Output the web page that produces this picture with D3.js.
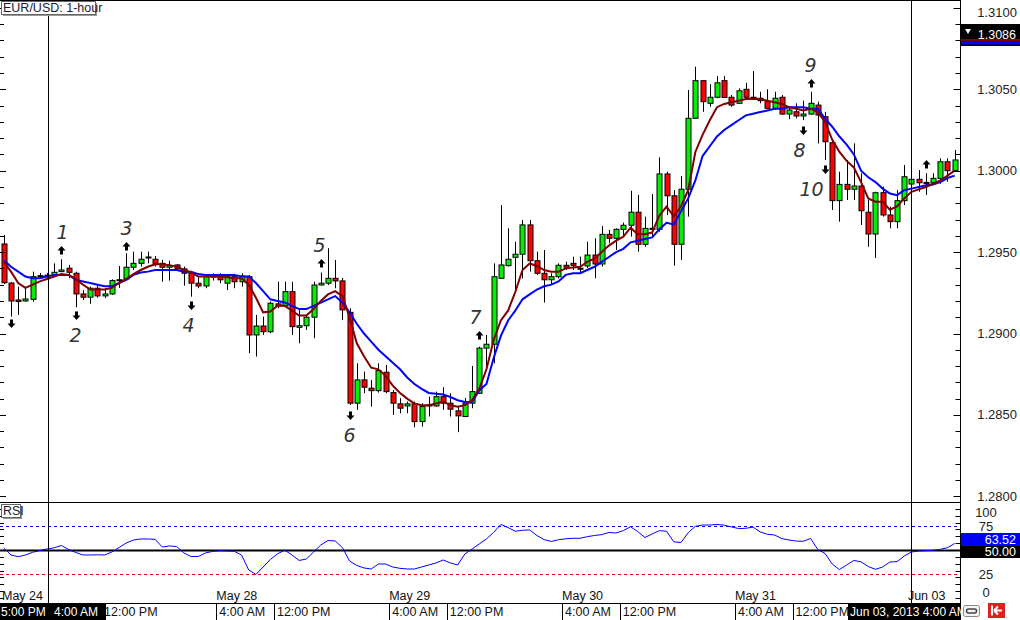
<!DOCTYPE html>
<html>
<head>
<meta charset="utf-8">
<script src="https://cdn.jsdelivr.net/npm/d3@7"></script>
<style>
  body { margin: 0; background: #fff; }
  svg text { font-family: "Liberation Sans", Arial, sans-serif; }
</style>
</head>
<body>
<div id="chart"></div>
<script>
// EUR/USD 1-hour candles (one entry per bar)
const opens = [1.2955,1.2931,1.29206,1.2920,1.2921,1.29353,1.29355,1.2936,1.2938,1.29401,1.2937,1.29243,1.29223,1.29278,1.29231,1.29243,1.29327,1.29335,1.29407,1.29431,1.29468,1.29456,1.29431,1.29407,1.29421,1.29397,1.2937,1.29309,1.29292,1.29349,1.29349,1.29309,1.29349,1.29318,1.29349,1.28991,1.29046,1.29011,1.29182,1.29169,1.29257,1.29038,1.29048,1.291,1.29298,1.29309,1.29339,1.29323,1.2913,1.28572,1.28715,1.28664,1.28649,1.28762,1.28637,1.28568,1.28555,1.28568,1.28459,1.28561,1.28555,1.28612,1.28572,1.28525,1.2849,1.28572,1.28633,1.2891,1.28934,1.29339,1.29417,1.29468,1.29487,1.29667,1.29447,1.2937,1.2933,1.29349,1.29419,1.29431,1.29401,1.29415,1.29482,1.29427,1.29609,1.29585,1.2964,1.29665,1.29745,1.29548,1.29646,1.2964,1.2998,1.29846,1.29548,1.29886,1.30322,1.30553,1.30414,1.30451,1.30553,1.30451,1.30414,1.305,1.30451,1.30445,1.30424,1.30383,1.30451,1.30348,1.30362,1.30336,1.30348,1.30403,1.30332,1.30172,1.29816,1.29916,1.29886,1.29906,1.29745,1.29611,1.29865,1.29728,1.29687,1.29816,1.29918,1.29947,1.29926,1.29926,1.29953,1.30055,1.3];
const highs = [1.29605,1.29317,1.29288,1.29288,1.2938,1.29372,1.29372,1.29431,1.29456,1.29421,1.2938,1.29267,1.29288,1.29292,1.29278,1.29333,1.29415,1.29493,1.29503,1.29503,1.29503,1.29476,1.29452,1.29447,1.29427,1.29411,1.2938,1.29345,1.2936,1.2937,1.2937,1.2936,1.29366,1.2937,1.2936,1.29114,1.29104,1.29196,1.29318,1.29318,1.29318,1.29155,1.29114,1.29318,1.29374,1.29524,1.29452,1.29341,1.29155,1.28817,1.28766,1.28715,1.28817,1.28807,1.28653,1.28603,1.28582,1.28582,1.28572,1.28612,1.28643,1.2867,1.28633,1.28551,1.28603,1.28801,1.28919,1.28991,1.29431,1.29789,1.29646,1.29564,1.29697,1.29697,1.29503,1.29513,1.2937,1.29431,1.29441,1.29472,1.29472,1.29564,1.29585,1.2966,1.29636,1.29646,1.29681,1.29877,1.29851,1.29718,1.29857,1.30082,1.29994,1.29881,1.29967,1.30496,1.30639,1.30555,1.30532,1.30581,1.30581,1.30465,1.30506,1.3054,1.30612,1.30485,1.305,1.30485,1.30465,1.30393,1.30414,1.3043,1.30485,1.30424,1.30362,1.30189,1.29994,1.30066,1.30168,1.29984,1.2982,1.29871,1.29902,1.29779,1.29881,1.30035,1.29984,1.30004,1.29984,1.29984,1.30076,1.30076,1.30127];
const lows = [1.29304,1.29104,1.29114,1.29195,1.29196,1.29335,1.29341,1.29358,1.29378,1.29339,1.29161,1.29206,1.29182,1.2922,1.29218,1.29237,1.2928,1.2933,1.2939,1.29411,1.29431,1.29411,1.29318,1.29325,1.29395,1.29294,1.29226,1.29278,1.29278,1.29325,1.29309,1.29267,1.29278,1.29288,1.28879,1.28858,1.28991,1.29002,1.29155,1.29165,1.28991,1.2894,1.29022,1.28971,1.29295,1.29298,1.29278,1.29083,1.28561,1.28531,1.28633,1.28551,1.28637,1.28633,1.285,1.2851,1.2851,1.28424,1.28428,1.2849,1.2855,1.28531,1.2849,1.28394,1.28486,1.28541,1.28629,1.28797,1.28817,1.29335,1.29411,1.29267,1.29339,1.2938,1.2936,1.2919,1.29298,1.29339,1.2939,1.2939,1.2937,1.29402,1.29339,1.29411,1.29554,1.29513,1.29595,1.29595,1.29503,1.29533,1.29595,1.29625,1.29728,1.29417,1.29452,1.29718,1.3032,1.30362,1.30393,1.30445,1.30451,1.30393,1.3041,1.30434,1.30434,1.30414,1.30377,1.30373,1.30342,1.30316,1.30322,1.30311,1.30342,1.30168,1.30066,1.29759,1.29687,1.2982,1.2982,1.29667,1.29533,1.29464,1.29718,1.29646,1.29646,1.29789,1.29892,1.29871,1.29851,1.2992,1.2992,1.29932,1.29994];
const closes = [1.29312,1.2920,1.29197,1.29212,1.29349,1.29355,1.29358,1.29376,1.2939,1.29376,1.29243,1.29223,1.29278,1.29231,1.29243,1.29325,1.2933,1.29407,1.29431,1.29456,1.2947,1.29431,1.29407,1.29417,1.29397,1.2937,1.29309,1.29292,1.29349,1.29353,1.2933,1.29349,1.29318,1.29353,1.28991,1.29046,1.29011,1.29186,1.29169,1.29257,1.29042,1.29048,1.291,1.29298,1.29309,1.29339,1.29323,1.29145,1.28572,1.28715,1.2867,1.28649,1.28772,1.28643,1.28572,1.28541,1.28568,1.28459,1.28551,1.28559,1.28612,1.28572,1.28535,1.28494,1.28572,1.28643,1.2891,1.28934,1.29349,1.29421,1.29456,1.29487,1.29667,1.29447,1.2937,1.2933,1.29349,1.29419,1.29407,1.29419,1.294,1.29482,1.29427,1.29609,1.29585,1.2964,1.29665,1.29745,1.29548,1.29646,1.2964,1.2998,1.29846,1.29548,1.29886,1.30322,1.30553,1.30424,1.30451,1.3054,1.3045,1.30403,1.30491,1.30451,1.30445,1.3043,1.30383,1.30445,1.30348,1.30373,1.30336,1.30348,1.30414,1.30342,1.30178,1.29816,1.29916,1.29886,1.29906,1.29754,1.29611,1.29865,1.29728,1.29687,1.29816,1.29963,1.29947,1.29926,1.29928,1.29953,1.30055,1.3,1.30066];

// moving averages (dark red = fast, blue = slow)
const maFast = [1.2944,1.2938,1.2931,1.2928,1.2930,1.2932,1.29335,1.2935,1.29365,1.2936,1.29335,1.2930,1.2927,1.2927,1.2927,1.2928,1.2931,1.29335,1.29365,1.2939,1.2941,1.29425,1.29425,1.2942,1.2941,1.2939,1.29375,1.2935,1.2935,1.2935,1.2935,1.29345,1.2934,1.2934,1.2930,1.2922,1.2913,1.29135,1.2917,1.2917,1.2914,1.2911,1.2911,1.2915,1.2920,1.2924,1.2926,1.2923,1.2910,1.2894,1.2886,1.2879,1.2878,1.2874,1.2868,1.28635,1.2860,1.2857,1.2856,1.2856,1.2857,1.2858,1.2856,1.2855,1.2856,1.2859,1.2866,1.2878,1.2896,1.2908,1.2914,1.29255,1.2939,1.2943,1.29415,1.2939,1.2938,1.2938,1.2940,1.29405,1.2941,1.2944,1.2946,1.2950,1.2954,1.2957,1.29595,1.2965,1.2961,1.2961,1.2962,1.29725,1.2978,1.2972,1.2978,1.2988,1.30115,1.3022,1.3031,1.3039,1.3041,1.3042,1.3043,1.3044,1.3044,1.3044,1.3043,1.3042,1.3041,1.3039,1.3038,1.3037,1.3038,1.3036,1.3030,1.3019,1.30115,1.3006,1.3002,1.2993,1.2983,1.2981,1.2981,1.2976,1.2978,1.2983,1.2987,1.29885,1.2990,1.2992,1.2994,1.2997,1.3000];
const maSlow = [1.2945,1.2941,1.2938,1.2935,1.2934,1.2934,1.2935,1.2936,1.2936,1.2936,1.2933,1.2932,1.2931,1.2930,1.2929,1.2929,1.2931,1.2933,1.2936,1.29375,1.2938,1.2939,1.2939,1.2939,1.2939,1.2938,1.2938,1.29365,1.2936,1.2936,1.2936,1.2936,1.2936,1.2935,1.2935,1.2931,1.2926,1.2921,1.2920,1.2919,1.2917,1.2915,1.2915,1.2917,1.2919,1.2921,1.2923,1.2919,1.2913,1.2906,1.2900,1.2895,1.2890,1.2886,1.2882,1.2878,1.2873,1.2869,1.2866,1.28635,1.2863,1.28625,1.2861,1.2859,1.2858,1.2858,1.2865,1.2869,1.2885,1.28985,1.2908,1.2914,1.2921,1.2924,1.2927,1.2929,1.2930,1.2932,1.2936,1.2937,1.2937,1.2939,1.2941,1.2944,1.2947,1.2950,1.2952,1.2956,1.2957,1.2958,1.2959,1.2964,1.2968,1.2967,1.2975,1.2983,1.2994,1.3009,1.3015,1.3021,1.3025,1.3028,1.3031,1.3034,1.3035,1.3036,1.3037,1.3038,1.3038,1.3039,1.3039,1.3039,1.3038,1.3038,1.3032,1.3027,1.3021,1.3016,1.3010,1.3000,1.2996,1.2993,1.2989,1.2986,1.2985,1.2988,1.2989,1.2990,1.2991,1.29915,1.2993,1.29955,1.2997];

// RSI, one value per bar
const rsiValues = [52.1,44.8,43.0,44.8,47.6,49.5,51.0,52.3,54.7,50.5,47.4,44.8,44.8,45.0,44.8,47.9,52.6,57.3,60.4,61.5,61.5,61.1,53.1,54.2,53.6,46.9,43.2,43.2,46.9,48.6,49.2,49.0,48.6,44.8,29.2,24.5,32.3,40.1,46.0,49.8,44.8,39.1,40.6,47.9,55.2,59.9,59.4,52.6,38.5,33.9,31.3,30.2,35.4,35.4,32.3,30.9,30.2,30.2,32.3,34.4,36.5,39.6,36.5,34.4,45.8,51.0,56.3,61.5,68.4,76.6,73.4,69.5,70.6,70.9,65.1,60.8,58.9,60.7,61.7,62.2,62.2,63.9,65.1,66.0,68.2,67.7,70.2,74.2,69.2,63.0,66.7,70.2,69.5,58.5,57.8,67.9,74.7,76.0,76.0,76.6,75.8,74.1,72.3,72.6,73.8,68.8,66.4,65.6,61.9,60.4,59.3,59.1,62.0,50.5,46.4,35.4,29.6,34.4,39.1,37.7,32.8,29.9,32.3,37.5,37.9,43.8,47.9,49.0,49.3,49.7,50.7,52.4,56.8];

const priceTicks = [1.28, 1.285, 1.29, 1.295, 1.30, 1.305, 1.31];
const priceTickLabels = ["1.2800", "1.2850", "1.2900", "1.2950", "1.3000", "1.3050", "1.3100"];
const rsiTicks = [100, 75, 25, 0];
const rsiLevels = [75, 50, 25];

// time axis: bar index of each tick
const timeTicks = [
  { i: 13.5, label: "12:00 PM" }, { i: 29.5, label: "4:00 AM" }, { i: 37.5, label: "12:00 PM" },
  { i: 53.5, label: "4:00 AM" }, { i: 61.5, label: "12:00 PM" }, { i: 77.5, label: "4:00 AM" },
  { i: 85.5, label: "12:00 PM" }, { i: 101.5, label: "4:00 AM" }, { i: 109.5, label: "12:00 PM" }
];
const dateTicks = [
  { i: -0.25, label: "May 24" }, { i: 29.5, label: "May 28" }, { i: 53.5, label: "May 29" },
  { i: 77.5, label: "May 30" }, { i: 101.5, label: "May 31" }, { i: 125.5, label: "Jun 03" }
];
const cursorBars = [6.1, 126];

// hand-drawn notes: arrow tip at (bar, price)
const notes = [
  { text: "1", i: 8, p: 1.29537, dir: "up", dx: 1 },
  { text: "2", i: 10, p: 1.29083, dir: "down", dx: -1 },
  { text: "3", i: 17, p: 1.29562, dir: "up", dx: 0 },
  { text: "4", i: 26, p: 1.29144, dir: "down", dx: -3 },
  { text: "5", i: 44, p: 1.29458, dir: "up", dx: -2 },
  { text: "6", i: 48, p: 1.28469, dir: "down", dx: -1 },
  { text: "7", i: 66, p: 1.29015, dir: "up", dx: -4 },
  { text: "8", i: 111, p: 1.30219, dir: "down", dx: -4 },
  { text: "9", i: 112, p: 1.30563, dir: "up", dx: -1 },
  { text: "10", i: 114, p: 1.29980, dir: "down", dx: -14 },
  { text: "", i: 1, p: 1.29034, dir: "down", dx: 0 },
  { text: "", i: 128, p: 1.30066, dir: "up", dx: 0 }
];

const W = 1020, H = 620;
const plotRight = 960.5;
const pricePanel = { top: 0, bottom: 502 };
const rsiPanel = { top: 502, bottom: 603 };

const svg = d3.select("#chart").append("svg")
  .attr("width", W).attr("height", H)
  .style("display", "block");

svg.append("rect").attr("width", W).attr("height", H).attr("fill", "#fff");

const x = d3.scaleLinear().domain([0, opens.length - 1]).range([3.8, 954.7]);
const y = d3.scaleLinear().domain([1.28, 1.31]).range([496.3, 7.9]);
const yr = d3.scaleLinear().domain([0, 100]).range([598, 502]);

svg.append("clipPath").attr("id", "clipPrice")
  .append("rect").attr("x", 0).attr("y", 0).attr("width", plotRight).attr("height", pricePanel.bottom);
svg.append("clipPath").attr("id", "clipRsi")
  .append("rect").attr("x", 0).attr("y", rsiPanel.top).attr("width", plotRight).attr("height", rsiPanel.bottom - rsiPanel.top);

// ---- price panel ----
const gp = svg.append("g").attr("clip-path", "url(#clipPrice)");

const bars = d3.range(opens.length).map(i => ({
  i, o: opens[i], h: highs[i], l: lows[i], c: closes[i]
}));

gp.selectAll(".wick").data(bars).enter().append("line")
  .attr("x1", d => Math.round(x(d.i)) + 0.5).attr("x2", d => Math.round(x(d.i)) + 0.5)
  .attr("y1", d => y(d.h)).attr("y2", d => y(d.l))
  .attr("stroke", "#000").attr("stroke-width", 1);

gp.selectAll(".body").data(bars).enter().append("rect")
  .attr("x", d => Math.round(x(d.i)) - 2)
  .attr("width", 5)
  .attr("y", d => y(Math.max(d.o, d.c)))
  .attr("height", d => Math.max(1, Math.abs(y(d.o) - y(d.c))))
  .attr("fill", d => Math.abs(d.c - d.o) < 0.00004 ? "#000" : (d.c > d.o ? "#00f000" : "#ff0000"))
  .attr("stroke", "#000").attr("stroke-width", 1);

const maLine = d3.line().x((d, i) => x(i)).y(d => y(d));
gp.append("path").datum(maSlow).attr("d", maLine)
  .attr("fill", "none").attr("stroke", "#0000ff").attr("stroke-width", 2);
gp.append("path").datum(maFast).attr("d", maLine)
  .attr("fill", "none").attr("stroke", "#800000").attr("stroke-width", 2);

// notes
const noteG = gp.append("g");
notes.forEach(n => {
  const ax = Math.round(x(n.i)) + 0.5, ay = y(n.p);
  const s = n.dir === "up" ? 1 : -1;
  const path = `M${ax},${ay} L${ax - 4},${ay + 4.5 * s} L${ax - 1.5},${ay + 4.5 * s} L${ax - 1.5},${ay + 8.5 * s} L${ax + 1.5},${ay + 8.5 * s} L${ax + 1.5},${ay + 4.5 * s} L${ax + 4},${ay + 4.5 * s} Z`;
  noteG.append("path").attr("d", path).attr("fill", "#000");
  if (n.text) {
    noteG.append("text")
      .attr("x", ax + n.dx)
      .attr("y", n.dir === "up" ? ay - 7 : ay + 22)
      .attr("text-anchor", "middle")
      .style("font-family", "'DejaVu Sans', sans-serif")
      .style("font-style", "italic")
      .style("font-weight", "300")
      .style("font-size", "19px")
      .attr("fill", "#333")
      .text(n.text);
  }
});

// ---- RSI panel ----
const gr = svg.append("g").attr("clip-path", "url(#clipRsi)");
gr.selectAll(".lvl").data(rsiLevels).enter().append("line")
  .attr("x1", 0).attr("x2", plotRight)
  .attr("y1", d => Math.round(yr(d)) + 0.5).attr("y2", d => Math.round(yr(d)) + 0.5)
  .attr("stroke", d => d === 75 ? "#0000ff" : d === 25 ? "#e00000" : "#000")
  .attr("stroke-width", d => d === 50 ? 2 : 1)
  .attr("stroke-dasharray", d => d === 50 ? null : "3,3");

gr.append("path").datum(rsiValues)
  .attr("d", d3.line().x((d, i) => x(i)).y(d => yr(d)))
  .attr("fill", "none").attr("stroke", "#0000ff").attr("stroke-width", 1);

// ---- frame lines ----
svg.append("line").attr("x1", 0).attr("x2", plotRight).attr("y1", 0.5).attr("y2", 0.5).attr("stroke", "#000");
svg.append("line").attr("x1", 0).attr("x2", plotRight).attr("y1", rsiPanel.top + 0.5).attr("y2", rsiPanel.top + 0.5).attr("stroke", "#000");
svg.append("line").attr("x1", 0).attr("x2", plotRight).attr("y1", rsiPanel.bottom + 0.5).attr("y2", rsiPanel.bottom + 0.5).attr("stroke", "#000");
svg.append("line").attr("x1", plotRight).attr("x2", plotRight).attr("y1", 0).attr("y2", rsiPanel.bottom).attr("stroke", "#000");

// cursor lines
svg.selectAll(".cursor").data(cursorBars).enter().append("line")
  .attr("x1", d => Math.round(x(d)) + 0.5).attr("x2", d => Math.round(x(d)) + 0.5)
  .attr("y1", 0).attr("y2", rsiPanel.bottom + 17)
  .attr("stroke", "#000");

// ---- right price axis ----
const minor = d3.range(1.28, 1.3105, 0.001);
svg.selectAll(".ptick").data(minor).enter().append("line")
  .attr("x1", (d, k) => k % 5 === 0 ? plotRight - 7 : plotRight - 5).attr("x2", plotRight)
  .attr("y1", d => Math.round(y(d)) + 0.5).attr("y2", d => Math.round(y(d)) + 0.5)
  .attr("stroke", "#000");
svg.selectAll(".ptickL").data(minor).enter().append("line")
  .attr("x1", 0).attr("x2", (d, k) => k % 5 === 0 ? 6 : 4)
  .attr("y1", d => Math.round(y(d)) + 0.5).attr("y2", d => Math.round(y(d)) + 0.5)
  .attr("stroke", "#000");
svg.selectAll(".plabel").data(priceTicks).enter().append("text")
  .attr("x", 1017).attr("y", d => Math.max(y(d), 12)).attr("dy", "0.35em")
  .attr("text-anchor", "end").style("font-size", "13px").attr("fill", "#222")
  .text((d, k) => priceTickLabels[k]);

// RSI axis
const rsiMinor = d3.range(0, 100.1, 100 / 14);
svg.selectAll(".rtick").data(rsiMinor).enter().append("line")
  .attr("x1", plotRight - 5).attr("x2", plotRight)
  .attr("y1", d => Math.round(yr(d)) + 0.5).attr("y2", d => Math.round(yr(d)) + 0.5)
  .attr("stroke", "#000");
svg.selectAll(".rtickL").data(rsiMinor).enter().append("line")
  .attr("x1", 0).attr("x2", 4)
  .attr("y1", d => Math.round(yr(d)) + 0.5).attr("y2", d => Math.round(yr(d)) + 0.5)
  .attr("stroke", "#000");
svg.selectAll(".rlabel").data(rsiTicks).enter().append("text")
  .attr("x", 986).attr("y", d => Math.min(Math.max(yr(d), 512), 592)).attr("dy", "0.35em")
  .attr("text-anchor", "middle").style("font-size", "13px").attr("fill", "#222")
  .text(d => d);

// value boxes on the right axis
function valueBox(y0, h, fill, label) {
  svg.append("rect").attr("x", plotRight + 0.5).attr("y", y0).attr("width", W - plotRight).attr("height", h).attr("fill", fill);
  svg.append("text").attr("x", 1016).attr("y", y0 + h / 2).attr("dy", "0.35em")
    .attr("text-anchor", "end").style("font-size", "12.5px").attr("fill", "#fff").text(label);
}
valueBox(24, 22, "#000", "1.3086");
svg.append("path").attr("d", "M965,29 L971,29 L968,34 Z").attr("fill", "#fff");
svg.append("rect").attr("x", plotRight + 0.5).attr("y", 39).attr("width", W - plotRight).attr("height", 2.5).attr("fill", "#800000");
svg.append("rect").attr("x", plotRight + 0.5).attr("y", 41.5).attr("width", W - plotRight).attr("height", 3).attr("fill", "#0000ff");
valueBox(533, 13, "#0000ff", "63.52");
valueBox(546, 12, "#000", "50.00");

// ---- time axis ----
svg.selectAll(".dlabel").data(dateTicks).enter().append("text")
  .attr("x", d => Math.max(x(d.i), 1)).attr("y", 600)
  .style("font-size", "12.5px").attr("fill", "#111")
  .text(d => d.label);

svg.selectAll(".tsep").data(timeTicks).enter().append("line")
  .attr("x1", d => Math.round(x(d.i)) + 0.5).attr("x2", d => Math.round(x(d.i)) + 0.5)
  .attr("y1", rsiPanel.bottom).attr("y2", H)
  .attr("stroke", "#000");
svg.selectAll(".tlabel").data(timeTicks).enter().append("text")
  .attr("x", d => x(d.i) + 3).attr("y", 616)
  .style("font-size", "12.5px").attr("fill", "#111")
  .text(d => d.label);

// cursor labels at the bottom
svg.append("rect").attr("x", 0).attr("y", 603).attr("width", 106).attr("height", 17).attr("fill", "#000");
svg.append("text").attr("x", 1).attr("y", 616).style("font-size", "12px").attr("fill", "#fff").text("5:00 PM");
svg.append("text").attr("x", 54).attr("y", 616).style("font-size", "12px").attr("fill", "#fff").text("4:00 AM");
svg.append("rect").attr("x", 848).attr("y", 603).attr("width", 113).attr("height", 17).attr("fill", "#000");
svg.append("text").attr("x", 850).attr("y", 616).style("font-size", "12px").attr("fill", "#fff").text("Jun 03, 2013 4:00 AM");
svg.append("rect").attr("x", 961).attr("y", 603).attr("width", 59).attr("height", 17).attr("fill", "#fff");

// small icons bottom right
svg.append("rect").attr("x", 963.5).attr("y", 605.5).attr("width", 16).attr("height", 11).attr("rx", 2)
  .attr("fill", "#f4f4f4").attr("stroke", "#888");
svg.append("rect").attr("x", 966.5).attr("y", 609).attr("width", 10).attr("height", 4).attr("rx", 2)
  .attr("fill", "none").attr("stroke", "#444").attr("stroke-width", 1.5);
svg.append("rect").attr("x", 988).attr("y", 603).attr("width", 17).attr("height", 15).attr("fill", "#e02020");
svg.append("path").attr("d", "M992,605.5 L992,615.5 M994,610.5 L1002,610.5 M994,610.5 L998,606.5 M994,610.5 L998,614.5")
  .attr("stroke", "#fff").attr("stroke-width", 2).attr("fill", "none");

// ---- panel titles ----
function tag(x0, y0, w, h, label) {
  svg.append("rect").attr("x", x0 + 2).attr("y", y0 + 2).attr("width", w).attr("height", h).attr("fill", "#999");
  svg.append("rect").attr("x", x0 + 0.5).attr("y", y0 + 0.5).attr("width", w).attr("height", h)
    .attr("fill", "#fff").attr("stroke", "#666");
  svg.append("text").attr("x", x0 + 2).attr("y", y0 + h - 2.5)
    .style("font-size", "12.5px").attr("fill", "#1a1a33").text(label);
}
tag(1, 1, 94, 13, "EUR/USD: 1-hour");
tag(1, 504, 19, 13, "RSI");
</script>
</body>
</html>
